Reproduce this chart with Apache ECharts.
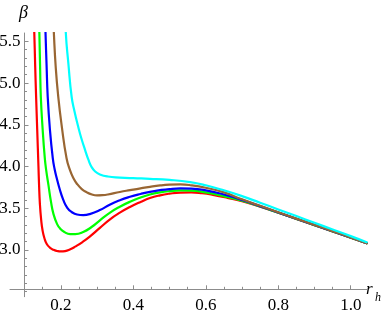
<!DOCTYPE html>
<html>
<head>
<meta charset="utf-8">
<script src="https://cdn.jsdelivr.net/npm/echarts@6/dist/echarts.min.js"></script>
<style>
html,body{margin:0;padding:0;background:#fff;}
#chart{width:388px;height:319px;}
</style>
</head>
<body>
<div id="chart"></div>
<script>
// tick values
const xMajorTicks = [0.2, 0.4, 0.6, 0.8, 1.0];
const xMinorTicks = [0.15, 0.25, 0.3, 0.35, 0.45, 0.5, 0.55, 0.65, 0.7, 0.75, 0.85, 0.9, 0.95];
const yMajorTicks = [3.0, 3.5, 4.0, 4.5, 5.0, 5.5];
const yMinorTicks = [2.5, 2.6, 2.7, 2.8, 2.9, 3.1, 3.2, 3.3, 3.4, 3.6, 3.7, 3.8, 3.9, 4.1, 4.2, 4.3, 4.4, 4.6, 4.7, 4.8, 4.9, 5.1, 5.2, 5.3, 5.4];
const xAxisTitle = "r";
const xAxisTitleSub = "h";
const yAxisTitle = "β";

// series values
const redX = [0.126, 0.127, 0.1295, 0.132, 0.135, 0.1385, 0.140, 0.1425, 0.146, 0.150, 0.155, 0.161, 0.170, 0.180, 0.190, 0.200, 0.212, 0.225, 0.240, 0.260, 0.280, 0.308, 0.335, 0.363, 0.391, 0.420, 0.446, 0.474, 0.500, 0.530, 0.560, 0.590, 0.620, 0.660, 0.700, 0.750, 0.800, 0.850, 0.900, 0.950, 1.000, 1.044];
const redY = [5.68, 5.60, 5.20, 4.84, 4.45, 4.00, 3.80, 3.55, 3.36, 3.23, 3.14, 3.075, 3.028, 3.002, 2.988, 2.982, 2.986, 3.005, 3.04, 3.095, 3.16, 3.265, 3.365, 3.447, 3.515, 3.575, 3.622, 3.655, 3.675, 3.688, 3.69, 3.68, 3.66, 3.625, 3.585, 3.518, 3.446, 3.372, 3.297, 3.222, 3.147, 3.08];

const greenX = [0.1405, 0.141, 0.143, 0.145, 0.150, 0.156, 0.160, 0.166, 0.173, 0.180, 0.190, 0.198, 0.210, 0.226, 0.240, 0.262, 0.285, 0.308, 0.335, 0.363, 0.391, 0.420, 0.446, 0.474, 0.500, 0.530, 0.560, 0.600, 0.650, 0.700, 0.750, 0.800, 0.850, 0.900, 0.950, 1.000, 1.044];
const greenY = [5.68, 5.60, 5.20, 4.84, 4.45, 4.10, 3.95, 3.78, 3.58, 3.43, 3.31, 3.258, 3.215, 3.19, 3.19, 3.215, 3.275, 3.355, 3.445, 3.518, 3.578, 3.628, 3.664, 3.69, 3.705, 3.714, 3.712, 3.69, 3.645, 3.59, 3.52, 3.447, 3.373, 3.298, 3.223, 3.148, 3.08];

const blueX = [0.1575, 0.158, 0.161, 0.164, 0.170, 0.178, 0.183, 0.189, 0.197, 0.207, 0.218, 0.230, 0.245, 0.262, 0.280, 0.308, 0.335, 0.363, 0.391, 0.420, 0.446, 0.474, 0.500, 0.530, 0.560, 0.600, 0.650, 0.700, 0.750, 0.800, 0.850, 0.900, 0.950, 1.000, 1.044];
const blueY = [5.68, 5.60, 5.20, 4.84, 4.45, 4.10, 3.97, 3.86, 3.73, 3.60, 3.505, 3.455, 3.425, 3.418, 3.43, 3.478, 3.543, 3.596, 3.637, 3.671, 3.697, 3.717, 3.73, 3.737, 3.735, 3.715, 3.665, 3.60, 3.525, 3.449, 3.374, 3.299, 3.224, 3.149, 3.081];

const brownX = [0.1805, 0.181, 0.186, 0.193, 0.203, 0.216, 0.226, 0.235, 0.244, 0.258, 0.272, 0.286, 0.300, 0.315, 0.330, 0.363, 0.391, 0.420, 0.446, 0.474, 0.500, 0.530, 0.560, 0.600, 0.650, 0.700, 0.750, 0.800, 0.850, 0.900, 0.950, 1.000, 1.044];
const brownY = [5.68, 5.60, 5.20, 4.84, 4.476, 4.10, 3.95, 3.86, 3.797, 3.73, 3.69, 3.665, 3.655, 3.657, 3.665, 3.695, 3.717, 3.739, 3.757, 3.773, 3.782, 3.785, 3.775, 3.745, 3.69, 3.607, 3.529, 3.452, 3.376, 3.30, 3.225, 3.15, 3.082];

const cyanX = [0.2135, 0.214, 0.221, 0.230, 0.238, 0.248, 0.257, 0.267, 0.276, 0.285, 0.295, 0.308, 0.330, 0.363, 0.400, 0.446, 0.500, 0.557, 0.600, 0.650, 0.700, 0.750, 0.800, 0.850, 0.900, 0.950, 1.000, 1.044];
const cyanY = [5.68, 5.60, 5.236, 4.836, 4.66, 4.48, 4.335, 4.20, 4.085, 3.995, 3.94, 3.905, 3.88, 3.868, 3.86, 3.853, 3.84, 3.813, 3.775, 3.715, 3.645, 3.566, 3.486, 3.406, 3.326, 3.246, 3.166, 3.093];

const seriesNames = ["red", "green", "blue", "brown", "cyan"];
const seriesColors = ["#ff0000", "#00ff00", "#0000ff", "#996633", "#00ffff"];
const seriesXs = [redX, greenX, blueX, brownX, cyanX];
const seriesYs = [redY, greenY, blueY, brownY, cyanY];

const chart = echarts.init(document.getElementById('chart'), null, {renderer: 'canvas'});
const axisGray = '#8c8c8c';
const labelFont = {fontFamily: 'Liberation Serif', fontSize: 17, color: '#000'};

const series = seriesNames.map((n, i) => ({
  name: n,
  type: 'line',
  xAxisIndex: 2,
  yAxisIndex: 1,
  data: seriesXs[i].map((x, j) => [x, seriesYs[i][j]]),
  showSymbol: false,
  smooth: 0.5,
  clip: true,
  silent: true,
  lineStyle: {color: seriesColors[i], width: 2.2, join: 'round', cap: 'round'},
  z: 2 + i
}));

const option = {
  animation: false,
  backgroundColor: '#fff',
  grid: [
    {left: 10, right: 21.3, top: 33, bottom: 29.7, outerBoundsMode: 'none', containLabel: false},
    {left: 24.5, right: 21.3, top: 33, bottom: 22.3, outerBoundsMode: 'none', containLabel: false}
  ],
  xAxis: [
    {
      type: 'value', gridIndex: 0, min: 0.06, max: 1.044, position: 'bottom',
      axisLine: {show: true, lineStyle: {color: axisGray, width: 1}},
      axisTick: {show: true, inside: true, length: 4, customValues: xMajorTicks, lineStyle: {color: axisGray}},
      axisLabel: Object.assign({show: true, margin: 8, customValues: xMajorTicks, formatter: v => v.toFixed(1)}, labelFont),
      splitLine: {show: false}
    },
    {
      type: 'value', gridIndex: 0, min: 0.06, max: 1.044, position: 'bottom',
      axisLine: {show: false},
      axisTick: {show: true, inside: true, length: 2.5, customValues: xMinorTicks, lineStyle: {color: axisGray}},
      axisLabel: {show: false, customValues: xMinorTicks},
      splitLine: {show: false}
    },
    {type: 'value', gridIndex: 1, min: 0.1, max: 1.044, show: false}
  ],
  yAxis: [
    {type: 'value', gridIndex: 0, min: 0, max: 1, show: false},
    {
      type: 'value', gridIndex: 1, min: 2.44, max: 5.6, position: 'left',
      axisLine: {show: true, lineStyle: {color: axisGray, width: 1}},
      axisTick: {show: true, inside: true, length: 4, customValues: yMajorTicks, lineStyle: {color: axisGray}},
      axisLabel: Object.assign({show: true, margin: 4, customValues: yMajorTicks, formatter: v => v.toFixed(1)}, labelFont),
      splitLine: {show: false}
    },
    {
      type: 'value', gridIndex: 1, min: 2.44, max: 5.6, position: 'left',
      axisLine: {show: false},
      axisTick: {show: true, inside: true, length: 2.5, customValues: yMinorTicks, lineStyle: {color: axisGray}},
      axisLabel: {show: false, customValues: yMinorTicks},
      splitLine: {show: false}
    }
  ],
  graphic: [
    {type: 'text', left: 19, top: 4, style: {text: yAxisTitle, font: 'italic 18px "Liberation Serif"', fill: '#000'}},
    {type: 'text', left: 366, top: 281, style: {text: xAxisTitle, font: 'italic 17px "Liberation Serif"', fill: '#000'}},
    {type: 'text', left: 375, top: 292, style: {text: xAxisTitleSub, font: 'italic 12px "Liberation Serif"', fill: '#000'}}
  ],
  series: series
};
chart.setOption(option);
</script>
</body>
</html>
